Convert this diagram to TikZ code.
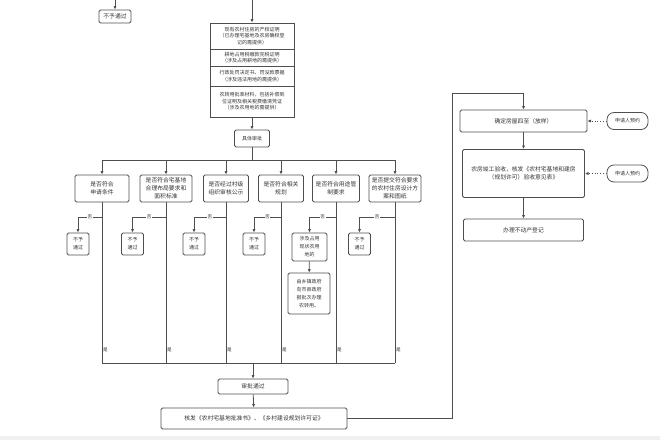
\documentclass[tikz,border=0pt]{standalone}
\usepackage{fontspec}
\newfontfamily\cjk{Noto Sans CJK SC}
\usetikzlibrary{arrows.meta}

\definecolor{linegray}{HTML}{4F4F4F}
\definecolor{textgray}{HTML}{333333}

\tikzset{
	box/.style={draw=linegray, line width=0.8pt, rounded corners=1.5pt, align=center,
		text=textgray, inner sep=1pt},
	pill/.style={box, rounded corners=7pt},
	txtS/.style={font=\cjk\fontsize{5}{6.6}\selectfont},
	txtN/.style={font=\cjk\fontsize{5}{8}\selectfont},
	txtM/.style={font=\cjk\fontsize{5.8}{7.8}\selectfont},
	lbl/.style={font=\cjk\fontsize{4.6}{5}\selectfont, text=textgray, inner sep=0.6pt},
	wire/.style={draw=linegray, line width=0.8pt},
	flow/.style={wire, -{Latex[length=3.6pt,width=3.2pt]}},
}

\begin{document}
\begin{tikzpicture}[x=1pt,y=-1pt]

% canvas %{{{2

	\useasboundingbox (0,0) rectangle (660,440);
	\fill[gray!12] (0,436) rectangle (660,440);

% parameters %{{{2

	\def\checky{188.5}
	\def\splity{217}
	\def\joiny{363}

% coordinates %{{{2

	\coordinate (in1) at (115,0);
	\coordinate (in2) at (252,0);
	\coordinate (T0) at (252,160);
	\coordinate (M) at (253,\joiny);
	\coordinate (E1) at (452,93);

% top reject %{{{2

	\node[box, txtM, minimum width=32pt, minimum height=13pt] (R0) at (115,16.5) {不予通过};
	\draw[flow] (in1) -- (R0);

% materials stack %{{{2

	\node[box, txtS, sharp corners, minimum width=84pt, minimum height=26pt] (S1) at (252,36)
		{现有农村住房的产权证明\\（已办理宅基地及农房确权登\\记的需提供）};
	\node[box, txtS, sharp corners, minimum width=84pt, minimum height=17pt] (S2) at (252,57.5)
		{耕地占用税缴款完税证明\\（涉及占用耕地的需提供）};
	\node[box, txtS, sharp corners, minimum width=84pt, minimum height=20pt] (S3) at (252,76)
		{行政处罚决定书、罚没款票据\\（涉及违法用地的需提供）};
	\node[box, txtS, sharp corners, minimum width=84pt, minimum height=31pt] (S4) at (252,101.5)
		{农转用批准材料，包括补偿到\\位证明及相关税费缴清凭证\\（涉及农用地的需提供）};

	\draw[flow] (in2) -- (S1);

% review %{{{2

	\node[box, txtS, minimum width=35pt, minimum height=17pt] (B) at (252,138.5) {具体审批};
	\draw[flow] (S4) -- (B);
	\draw[wire] (B) -- (T0);

% checks %{{{2

	\foreach \i/\x/\w/\txt in {
		1/102/54/{是否符合\\申请条件},
		2/166/52/{是否符合宅基地\\合理布局要求和\\面积标准},
		3/226/45/{是否经过村级\\组织审核公示},
		4/281/45/{是否符合相关\\规划},
		5/336/47/{是否符合用途管\\制要求},
		6/395/52/{是否提交符合要求\\的农村住房设计方\\案和图纸}} {
		\node[box, txtM, minimum width=\w pt, minimum height=27pt] (Q\i) at (\x,\checky) {\txt};
		\coordinate (T\i) at (\x,160);
		\coordinate (J\i) at (\x,\splity);
		\coordinate (Y\i) at (\x,\joiny);
	}

	\draw[wire] (T1) -- (T6);
	\foreach \i in {1,...,6} { \draw[flow] (T\i) -- (Q\i); }

% rejects %{{{2

	\foreach \i/\x in {1/78, 2/132.5, 3/194, 4/254, 6/359.5} {
		\node[box, txtN, minimum width=22pt, minimum height=22pt] (N\i) at (\x,244) {不予\\通过};
	}

	\node[box, txtN, minimum width=35pt, minimum height=28pt] (N5) at (309.5,247)
		{涉及占用\\现状农用\\地的};
	\node[box, txtN, minimum width=42pt, minimum height=41pt] (N7) at (309,293.5)
		{由乡镇政府\\向市县政府\\报批次办理\\农转用。};
	\draw[flow] (N5) -- (N7);

	\foreach \i in {1,...,6} {
		\draw[flow] (J\i) -| node[lbl, fill=white, pos=0.25] (no\i) {否} (N\i);
		\draw[wire] (Q\i) -- node[lbl, right, pos=0.92] (yes\i) {是} (Y\i);
	}

% approval %{{{2

	\draw[wire] (Y1) -- (Y6);

	\node[box, txtM, minimum width=70pt, minimum height=15pt] (A) at (253,386.5) {审批通过};
	\draw[flow] (M) -- (A);

	\node[box, txtM, minimum width=186pt, minimum height=21pt] (K) at (254,418.5)
		{核发《农村宅基地批准书》、《乡村建设规划许可证》};
	\draw[flow] (A) -- (K);

% right column %{{{2

	\node[box, txtM, minimum width=127pt, minimum height=22pt] (D1) at (523.5,121)
		{确定房屋四至（放样）};
	\node[box, txtM, minimum width=122pt, minimum height=48pt] (D2) at (523.5,173.5)
		{农房竣工验收，核发《农村宅基地和建房\\（规划许可）验收意见表》};
	\node[box, txtM, minimum width=120pt, minimum height=22pt] (D3) at (523.5,230)
		{办理不动产登记};

	\node[pill, txtS, minimum width=41pt, minimum height=17pt] (P1) at (627.5,121) {申请人预约};
	\node[pill, txtS, minimum width=41pt, minimum height=17pt] (P2) at (627.5,173.5) {申请人预约};

	\draw[flow] (K) -| (E1) -| (D1);
	\draw[flow] (D1) -- (D2);
	\draw[flow] (D2) -- (D3);

	\draw[flow, dotted] (P1) -- (D1);
	\draw[flow, dotted] (P2) -- (D2);

% closing %{{{2

\end{tikzpicture}
\end{document}
